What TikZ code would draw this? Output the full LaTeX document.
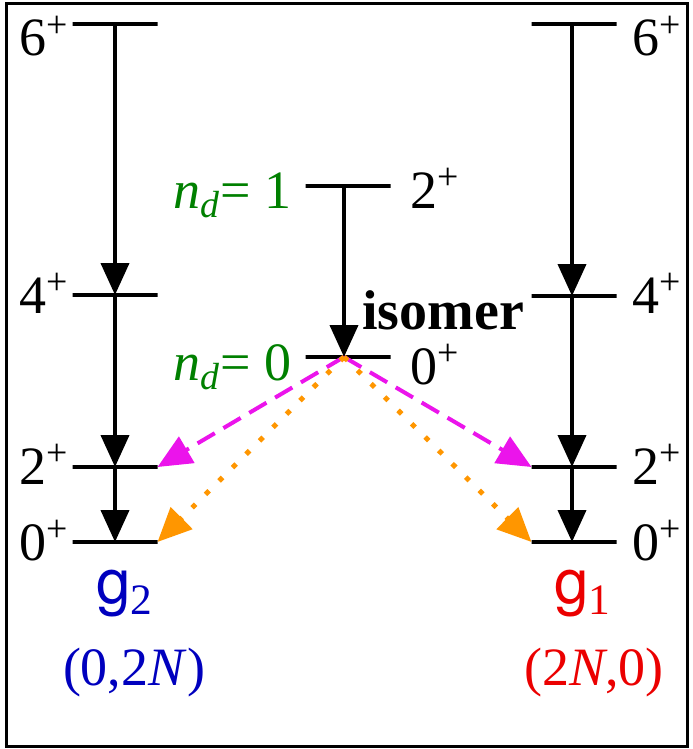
\documentclass[tikz,border=0pt]{standalone}
\usepackage{fontspec}
\newfontfamily\levelfont{Liberation Serif}
\newfontfamily\bandfont{TeX Gyre Heros}
\usetikzlibrary{arrows.meta}
\definecolor{ndgreen}{RGB}{0,128,0}
\definecolor{gblue}{RGB}{0,0,190}
\definecolor{gred}{RGB}{235,0,0}
\definecolor{mixmag}{RGB}{235,20,235}
\definecolor{mixorange}{RGB}{255,150,0}

\begin{document}
\begin{tikzpicture}[
    x=0.5pt, y=-0.5pt,
    level/.style={draw, line width=2pt, minimum width=42.5pt,
                  minimum height=0pt, inner sep=0pt, outer sep=0pt},
    trans/.style={line width=2pt, -{Triangle[length=16pt, width=14pt]}},
    mixdash/.style={line width=2pt, mixmag, dash pattern=on 10pt off 5pt,
                    -{Triangle[length=17pt, width=15pt]}},
    mixdot/.style={line width=2.5pt, mixorange, dash pattern=on 2.5pt off 7pt,
                   -{Triangle[length=17pt, width=15pt]}},
    spin/.style={inner sep=0pt, font=\levelfont\fontsize{27}{30}\selectfont},
    band/.style={inner sep=0pt, anchor=base, font=\bandfont\fontsize{31}{34}\selectfont},
]
\useasboundingbox (0,0) rectangle (692,749);

% --- Rahmen ---------------------------------------------------------
\draw[line width=1.5pt] (6,4) rectangle (687,746);

% --- Niveaus ---------------------------------------------------------
\node[level] (lsix)  at (115,24)  {};
\node[level] (lfour) at (115,295) {};
\node[level] (ltwo)  at (115,467) {};
\node[level] (lzero) at (115,542) {};

\node[level] (rsix)  at (574,24)  {};
\node[level] (rfour) at (574,296) {};
\node[level] (rtwo)  at (574,467) {};
\node[level] (rzero) at (574,542) {};

\node[level] (mtwo)  at (348,186) {};
\node[level] (mzero) at (348,357) {};

% --- Spins -----------------------------------------------------------
\node[spin, anchor=base east] at (69,56)  {6\textsuperscript{+}};
\node[spin, anchor=base east] at (69,313) {4\textsuperscript{+}};
\node[spin, anchor=base east] at (69,484) {2\textsuperscript{+}};
\node[spin, anchor=base east] at (69,560) {0\textsuperscript{+}};

\node[spin, anchor=base west] at (632,56)  {6\textsuperscript{+}};
\node[spin, anchor=base west] at (632,313) {4\textsuperscript{+}};
\node[spin, anchor=base west] at (632,484) {2\textsuperscript{+}};
\node[spin, anchor=base west] at (632,560) {0\textsuperscript{+}};

\node[spin, anchor=base west] at (410,208) {2\textsuperscript{+}};
\node[spin, anchor=base west] at (410,384) {0\textsuperscript{+}};

% n_d
\node[spin, anchor=base east, text=ndgreen] at (292,208)
    {\textit{n}\textsubscript{\textit{d}}= 1};
\node[spin, anchor=base east, text=ndgreen] at (292,380)
    {\textit{n}\textsubscript{\textit{d}}= 0};

\node[spin, anchor=base west, font=\levelfont\fontsize{28}{32}\selectfont\bfseries]
    at (362,329) {isomer};

% --- Uebergaenge -----------------------------------------------------
\draw[trans] (lsix.center)  -- (lfour.center);
\draw[trans] (lfour.center) -- (ltwo.center);
\draw[trans] (ltwo.center)  -- (lzero.center);

\draw[trans] ([xshift=-1pt]rsix.center)  -- ([xshift=-1pt]rfour.center);
\draw[trans] ([xshift=-1pt]rfour.center) -- ([xshift=-1pt]rtwo.center);
\draw[trans] ([xshift=-1pt]rtwo.center)  -- ([xshift=-1pt]rzero.center);

\draw[trans] ([xshift=-2pt]mtwo.center) -- ([xshift=-2pt]mzero.center);

% Zerfall des Isomers
\draw[mixdash] ([xshift=-2pt]mzero.center) -- (ltwo.east);
\draw[mixdash] ([xshift=-2pt]mzero.center) -- (rtwo.west);
\draw[mixdot]  ([xshift=-2pt]mzero.center) -- (lzero.east);
\draw[mixdot]  ([xshift=-2pt]mzero.center) -- (rzero.west);

% --- Baender ---------------------------------------------------------
\node[band, text=gblue] at (125,603) {g\textsubscript{\levelfont 2}};
\node[band, text=gred]  at (583,603) {g\textsubscript{\levelfont 1}};
\node[spin, anchor=base, text=gblue] at (134,685) {(0,2\textit{N})};
\node[spin, anchor=base, text=gred]  at (594,685) {(2\textit{N},0)};

\end{tikzpicture}
\end{document}
